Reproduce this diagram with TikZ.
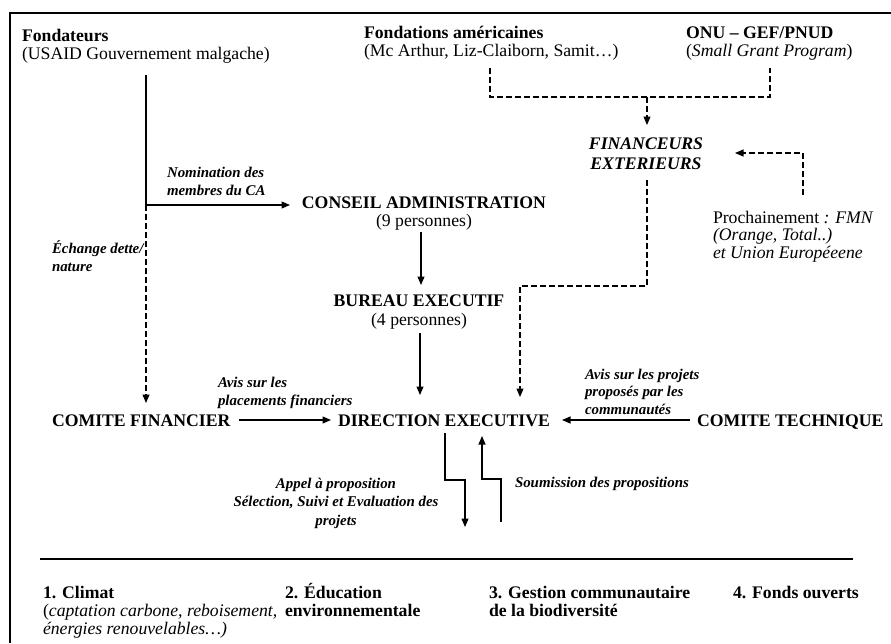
\documentclass[tikz,border=0pt]{standalone}
\usepackage{fontspec}
\setmainfont{Liberation Serif}
\usetikzlibrary{arrows.meta}
\begin{document}
\begin{tikzpicture}[x=1pt,y=-1pt,
  txt/.style={inner sep=0pt, outer sep=0pt, font=\fontsize{17.7}{18}\selectfont},
  bld/.style={txt, font=\fontsize{17.7}{18}\selectfont\bfseries},
  lbl/.style={inner sep=0pt, outer sep=0pt, font=\fontsize{14.9}{17.5}\selectfont\bfseries\itshape},
  conn/.style={line width=1.1pt, draw=black},
  arr/.style={conn, -{Triangle[length=8.5pt,width=7pt]}},
  dsh/.style={conn, dash pattern=on 6pt off 3pt},
  darr/.style={dsh, -{Triangle[length=8.5pt,width=7pt]}},
  framel/.style={line width=1.6pt}]
\useasboundingbox (0,0) rectangle (891,643);

% frame
\coordinate (frTL) at (10,13);
\coordinate (frTR) at (891,13);
\coordinate (frBL) at (10,643);
\draw[framel] (frBL) -- (frTL) -- (frTR);

% nodes (base anchor = baseline of last line)
\node[txt, anchor=base west, align=left] (fondateurs) at (22,59) {\textbf{Fondateurs}\\(USAID Gouvernement malgache)};
\node[txt, anchor=base west, align=left] (fondam) at (364,56) {\textbf{Fondations américaines}\\(Mc Arthur, Liz-Claiborn, Samit…)};
\node[txt, anchor=base west, align=left] (onu) at (686,56) {\textbf{ONU – GEF/PNUD}\\(\textit{Small Grant Program})};
\node[txt, font=\fontsize{17.7}{20}\selectfont\bfseries\itshape, anchor=base, align=center] (financeurs) at (646,169) {FINANCEURS\\EXTERIEURS};
\node[txt, font=\fontsize{17.7}{17.5}\selectfont, anchor=base west, align=left] (prochain) at (713,258) {Prochainement \textit{: FMN}\\\textit{(Orange, Total..)}\\\textit{et Union Européeene}};
\node[txt, anchor=base, align=center] (conseil) at (424,226) {\textbf{CONSEIL ADMINISTRATION}\\(9 personnes)};
\node[txt, font=\fontsize{17.7}{19}\selectfont, anchor=base, align=center] (bureau) at (419,325) {\textbf{BUREAU EXECUTIF}\\(4 personnes)};
\node[bld, anchor=base] (direction) at (444,426) {DIRECTION EXECUTIVE};
\node[bld, anchor=base west] (comfin) at (52,426) {COMITE FINANCIER};
\node[bld, anchor=base west] (comtech) at (697,426) {COMITE TECHNIQUE};

% labels
\node[lbl, anchor=base west, align=left] (nomlbl) at (167,195) {Nomination des\\membres du CA};
\node[lbl, anchor=base west, align=left] (echlbl) at (52,271) {Échange dette/\\nature};
\node[lbl, anchor=base west, align=left] (avisfin) at (218,405) {Avis sur les\\placements financiers};
\node[lbl, anchor=base west, align=left] (avistech) at (585,414) {Avis sur les projets\\proposés par les\\communautés};
\node[lbl, font=\fontsize{14.9}{18.5}\selectfont\bfseries\itshape, anchor=base, align=center] (appel) at (336,525) {Appel à proposition\\Sélection, Suivi et Evaluation des\\projets};
\node[lbl, anchor=base west] (soum) at (515,487) {Soumission des propositions};

% bottom
\coordinate (sepL) at (40,559);
\coordinate (sepR) at (853,559);
\draw[line width=1.4pt] (sepL) -- (sepR);
\node[txt, anchor=base west, align=left] (climat) at (43,634) {\textbf{1. Climat}\\(\textit{captation carbone, reboisement,}\\\textit{énergies renouvelables…)}};
\node[bld, anchor=base west, align=left] (educ) at (285,616) {2. Éducation\\environnementale};
\node[bld, anchor=base west, align=left] (gestion) at (489,616) {3. Gestion communautaire\\de la biodiversité};
\node[bld, anchor=base west] (fonds) at (733,598) {4. Fonds ouverts};

% connectors
\coordinate (fA) at (146,75);
\coordinate (fB) at (146,205);
\coordinate (caIn) at (290,205);
\draw[conn] (fA) -- (fB);
\draw[arr] (fB) -- (caIn);
\coordinate (cfIn) at (146,403);
\draw[darr] (fB) -- (cfIn);

\coordinate (caOut) at (421,232);
\coordinate (beIn) at (421,285);
\draw[arr] (caOut) -- (beIn);
\coordinate (beOut) at (420,333);
\coordinate (deTop) at (420,395);
\draw[arr] (beOut) -- (deTop);

\coordinate (cfOut) at (239,420);
\coordinate (deL) at (331,420);
\draw[arr] (cfOut) -- (deL);
\coordinate (ctOut) at (690,420);
\coordinate (deR) at (562,420);
\draw[arr] (ctOut) -- (deR);

% funders dashed
\coordinate (faB) at (490,68);
\coordinate (faC) at (490,97);
\coordinate (onB) at (770,68);
\coordinate (onC) at (770,97);
\coordinate (mid) at (647,97);
\coordinate (finIn) at (647,125);
\draw[dsh] (faB) -- (faC) -- (onC) -- (onB);
\draw[darr] (mid) -- (finIn);

\coordinate (finOut) at (647,180);
\coordinate (fk1) at (647,286);
\coordinate (fk2) at (520,286);
\coordinate (deIn2) at (520,397);
\draw[darr] (finOut) -- (fk1) -- (fk2) -- (deIn2);

\coordinate (prOut) at (803,195);
\coordinate (pk1) at (803,153);
\coordinate (finR) at (735,153);
\draw[darr] (prOut) -- (pk1) -- (finR);

% zigzags
\coordinate (z1a) at (445,433);
\coordinate (z1b) at (445,480);
\coordinate (z1c) at (465,480);
\coordinate (z1d) at (465,527);
\draw[arr] (z1a) -- (z1b) -- (z1c) -- (z1d);
\coordinate (z2a) at (501,522);
\coordinate (z2b) at (501,479);
\coordinate (z2c) at (482,479);
\coordinate (z2d) at (482,436);
\draw[arr] (z2a) -- (z2b) -- (z2c) -- (z2d);
\end{tikzpicture}
\end{document}
